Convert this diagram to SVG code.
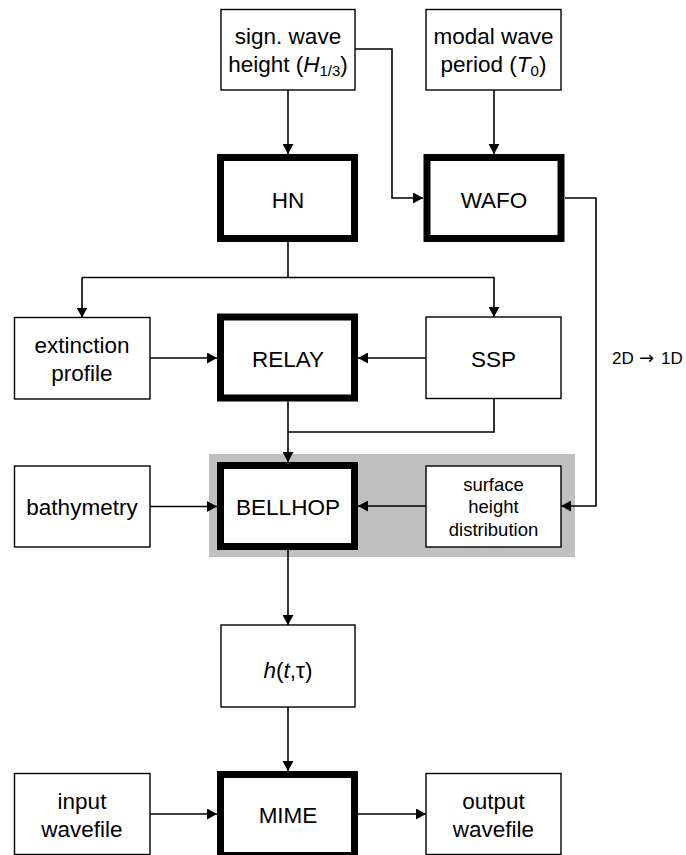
<svg xmlns="http://www.w3.org/2000/svg" width="686" height="855" viewBox="0 0 686 855">
<style>
.thin{fill:#fff;stroke:#000;stroke-width:1.4}
.thick{fill:#fff;stroke:#000;stroke-width:7}
.lbl{font-family:"Liberation Sans",Arial,sans-serif;font-size:22.5px;fill:#000;text-anchor:middle}
.sm{font-size:18.5px}
.c{fill:none;stroke:#000;stroke-width:1.6}
.c.a{marker-end:url(#ah)}
</style>
<defs>
<marker id="ah" markerUnits="userSpaceOnUse" markerWidth="10" markerHeight="11" refX="10" refY="5.5" orient="auto" viewBox="0 0 10 11">
<path d="M0,0 L10,5.5 L0,11 z" fill="#000"/>
</marker>
</defs>
<rect x="209" y="454" width="366" height="103" fill="#c0c0c0"/>
<g id="connectors">
<path class="c a" d="M288,90 V154"/>
<path class="c a" d="M355,49 H392 V198 H423"/>
<path class="c a" d="M494,90 V154"/>
<path class="c" d="M288,242 V277.5"/>
<path class="c a" d="M82,277.5 H494 V317"/>
<path class="c a" d="M82,277.5 V317.5"/>
<path class="c a" d="M150,358 H217"/>
<path class="c a" d="M426,358 H358"/>
<path class="c a" d="M288,401.5 V462"/>
<path class="c" d="M494,398.5 V432 H288"/>
<path class="c a" d="M150,506.5 H217"/>
<path class="c a" d="M426,506 H358"/>
<path class="c a" d="M565,198 H596 V506 H561"/>
<path class="c a" d="M288,550 V625"/>
<path class="c a" d="M288,707 V771"/>
<path class="c a" d="M150,814 H217"/>
<path class="c a" d="M358,814 H426"/>
</g>
<g id="sign-wave">
<rect class="thin" x="221" y="9.5" width="134" height="80.5"/>
<text class="lbl" x="288" y="44">sign. wave</text>
<text class="lbl" x="288" y="72">height (<tspan font-style="italic">H</tspan><tspan font-size="15" dy="4">1/3</tspan><tspan dy="-4">)</tspan></text>
</g>
<g id="modal-wave">
<rect class="thin" x="426" y="9.5" width="135" height="80.5"/>
<text class="lbl" x="493.5" y="44">modal wave</text>
<text class="lbl" x="493.5" y="72">period (<tspan font-style="italic">T</tspan><tspan font-size="15" dy="4">0</tspan><tspan dy="-4">)</tspan></text>
</g>
<g id="HN">
<rect class="thick" x="220.5" y="157.5" width="134" height="81"/>
<text class="lbl" x="288" y="207.5">HN</text>
</g>
<g id="WAFO">
<rect class="thick" x="427" y="157.5" width="134" height="81"/>
<text class="lbl" x="494" y="207.5">WAFO</text>
</g>
<g id="extinction">
<rect class="thin" x="14.5" y="317.5" width="135.5" height="81.5"/>
<text class="lbl" x="82" y="352.5">extinction</text>
<text class="lbl" x="82" y="380.5">profile</text>
</g>
<g id="RELAY">
<rect class="thick" x="220.5" y="317" width="134" height="81"/>
<text class="lbl" x="288" y="366.5">RELAY</text>
</g>
<g id="SSP">
<rect class="thin" x="426" y="317" width="135" height="81.5"/>
<text class="lbl" x="493.5" y="366.5">SSP</text>
</g>
<g id="label-2d1d">
<text class="lbl" y="364" style="text-anchor:start;font-size:17px"><tspan x="612">2D</tspan><tspan x="639" style="font-family:'DejaVu Sans',sans-serif;font-size:18px">→</tspan><tspan x="661">1D</tspan></text>
</g>
<g id="bathymetry">
<rect class="thin" x="14.5" y="466" width="135.5" height="81"/>
<text class="lbl" x="82" y="514.5">bathymetry</text>
</g>
<g id="BELLHOP">
<rect class="thick" x="220.5" y="465.5" width="134" height="81"/>
<text class="lbl" x="288" y="514.5">BELLHOP</text>
</g>
<g id="surface">
<rect class="thin" x="426" y="466" width="135" height="81"/>
<text class="lbl sm" x="493.5" y="490.5">surface</text>
<text class="lbl sm" x="493.5" y="513">height</text>
<text class="lbl sm" x="493.5" y="535.5">distribution</text>
</g>
<g id="h">
<rect class="thin" x="221" y="625" width="134" height="82"/>
<text class="lbl" x="288" y="678"><tspan font-style="italic">h</tspan>(<tspan font-style="italic">t</tspan>,τ)</text>
</g>
<g id="input">
<rect class="thin" x="14.5" y="773.5" width="135.5" height="81"/>
<text class="lbl" x="82" y="809">input</text>
<text class="lbl" x="82" y="836.5">wavefile</text>
</g>
<g id="MIME">
<rect class="thick" x="220.5" y="774.5" width="134" height="81"/>
<text class="lbl" x="288" y="822.5">MIME</text>
</g>
<g id="output">
<rect class="thin" x="426" y="773.5" width="135" height="81"/>
<text class="lbl" x="493.5" y="809">output</text>
<text class="lbl" x="493.5" y="836.5">wavefile</text>
</g>
</svg>
